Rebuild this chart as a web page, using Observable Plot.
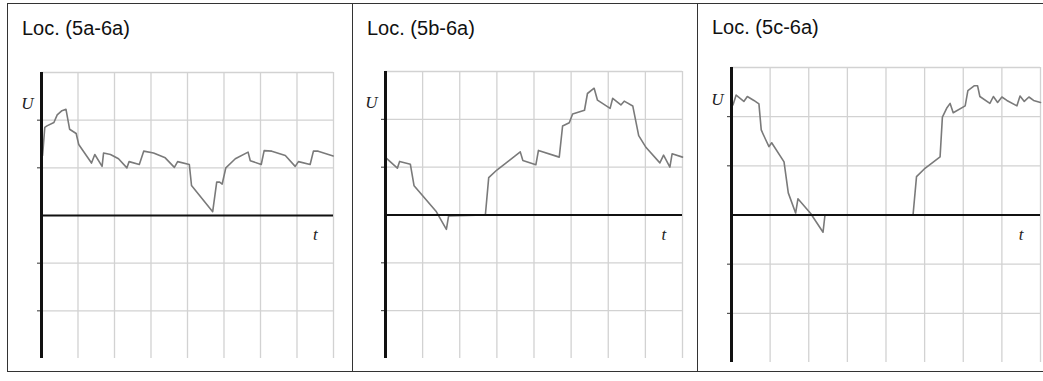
<!DOCTYPE html>
<html>
<head>
<meta charset="utf-8">
<script src="https://cdn.jsdelivr.net/npm/d3@7"></script>
<script src="https://cdn.jsdelivr.net/npm/@observablehq/plot@0.6"></script>
<style>
  html, body { margin: 0; padding: 0; background: #fff; }
  #wrap { position: relative; width: 1043px; height: 381px; overflow: hidden; background: #fff; }
  .ln { position: absolute; background: #333; }
  .title { position: absolute; font-family: Arial, "Liberation Sans", sans-serif; font-size: 20px; line-height: 20px; color: #111; white-space: nowrap; }
  .panel { position: absolute; }
</style>
</head>
<body>
<div id="wrap"></div>
<script>
// ---- data ----
const titles = ["Loc. (5a-6a)", "Loc. (5b-6a)", "Loc. (5c-6a)"];
const xGrid = [1, 2, 3, 4, 5, 6, 7, 8];
const yGrid = [-2, -1, 1, 2, 3];
const yTicks = [-2, -1, 1, 2];

const t1 = [0.03, 0.09, 0.15, 0.34, 0.43, 0.56, 0.67, 0.77, 0.95, 1.02, 1.37, 1.46, 1.66, 1.70, 1.89, 2.11, 2.34, 2.40, 2.68, 2.80, 3.07, 3.39, 3.64, 3.73, 4.05, 4.11, 4.69, 4.80, 4.88, 4.95, 5.05, 5.31, 5.66, 5.72, 6.02, 6.10, 6.31, 6.68, 6.95, 7.04, 7.36, 7.45, 7.58, 7.99];
const u1 = [1.26, 1.85, 1.88, 1.95, 2.11, 2.20, 2.23, 1.81, 1.72, 1.49, 1.10, 1.28, 1.03, 1.31, 1.28, 1.19, 1.00, 1.13, 1.07, 1.35, 1.31, 1.21, 1.01, 1.13, 1.07, 0.63, 0.08, 0.70, 0.70, 0.66, 1.00, 1.19, 1.33, 1.15, 1.07, 1.36, 1.35, 1.26, 1.03, 1.13, 1.07, 1.35, 1.35, 1.25];

const t2 = [0.02, 0.32, 0.38, 0.67, 0.77, 1.36, 1.64, 1.70, 2.69, 2.78, 3.00, 3.32, 3.63, 3.70, 4.05, 4.12, 4.68, 4.77, 4.95, 5.04, 5.36, 5.44, 5.62, 5.71, 6.05, 6.12, 6.34, 6.43, 6.66, 6.82, 7.02, 7.39, 7.49, 7.66, 7.72, 8.00];
const u2 = [1.19, 0.98, 1.12, 1.06, 0.61, 0.08, -0.30, -0.02, 0.00, 0.78, 0.94, 1.13, 1.32, 1.14, 1.05, 1.35, 1.21, 1.86, 1.93, 2.11, 2.19, 2.54, 2.65, 2.40, 2.23, 2.44, 2.30, 2.38, 2.28, 1.66, 1.41, 1.09, 1.25, 1.00, 1.28, 1.21];

const t3 = [0.04, 0.12, 0.32, 0.41, 0.58, 0.71, 0.77, 0.88, 0.97, 1.04, 1.36, 1.47, 1.66, 1.72, 2.05, 2.37, 2.42, 4.70, 4.79, 5.01, 5.40, 5.46, 5.57, 5.66, 5.74, 6.05, 6.12, 6.29, 6.37, 6.43, 6.69, 6.78, 6.89, 7.00, 7.13, 7.39, 7.47, 7.58, 7.70, 7.82, 8.00];
const u3 = [2.24, 2.44, 2.31, 2.41, 2.33, 2.26, 1.73, 1.54, 1.39, 1.47, 1.08, 0.45, 0.04, 0.33, 0.03, -0.35, 0.00, 0.00, 0.78, 0.95, 1.18, 1.99, 2.17, 2.27, 2.08, 2.22, 2.53, 2.63, 2.63, 2.41, 2.27, 2.41, 2.29, 2.40, 2.33, 2.22, 2.42, 2.31, 2.40, 2.33, 2.29];

const series = [[t1, u1], [t2, u2], [t3, u3]];

// ---- layout ----
const wrap = document.getElementById("wrap");
function hline(x, y, w, h) {
  const d = document.createElement("div");
  d.className = "ln";
  Object.assign(d.style, {left: x + "px", top: y + "px", width: w + "px", height: h + "px"});
  wrap.appendChild(d);
}
// outer frame and separators
hline(7, 3, 1043, 1);
hline(7, 371, 1043, 1);
hline(7, 3, 1, 369);
hline(352, 3, 1, 369);
hline(697, 3, 1, 369);

const frames = [
  {left: 41, right: 333, top: 72, bottom: 358, tx: 22, ty: 18},
  {left: 385, right: 682, top: 71, bottom: 358, tx: 367, ty: 18},
  {left: 731, right: 1040, top: 67, bottom: 362, tx: 712, ty: 17}
];

frames.forEach((f, i) => {
  const title = document.createElement("div");
  title.className = "title";
  title.textContent = titles[i];
  title.style.left = f.tx + "px";
  title.style.top = f.ty + "px";
  wrap.appendChild(title);

  const mL = 30, mR = 3, mT = 10, mB = 6;
  const [t, u] = series[i];
  const chart = Plot.plot({
    width: (f.right - f.left) + mL + mR,
    height: (f.bottom - f.top) + mT + mB,
    marginLeft: mL, marginRight: mR, marginTop: mT, marginBottom: mB,
    x: {domain: [0, 8], axis: null},
    y: {domain: [-3, 3]},
    style: {background: "transparent", overflow: "visible"},
    marks: [
      Plot.ruleX(xGrid, {stroke: "#d2d2d2", strokeWidth: 1.3}),
      Plot.ruleY(yGrid, {stroke: "#d2d2d2", strokeWidth: 1.3}),
      Plot.axisY(yTicks, {tickSize: 4, tickFormat: () => "", label: null, stroke: "#333"}),
      Plot.line(t, {x: t, y: u, stroke: "#7a7a7a", strokeWidth: 1.6}),
      Plot.ruleY([0], {stroke: "#111", strokeWidth: 2}),
      Plot.ruleX([0], {stroke: "#111", strokeWidth: 3}),
      Plot.text(["U"], {x: 0, y: 2.35, dx: -14, text: d => d, fontFamily: "Liberation Serif, Times New Roman, serif", fontStyle: "italic", fontSize: 17, fill: "#222"}),
      Plot.text(["t"], {x: 7.5, y: -0.4, text: d => d, fontFamily: "Liberation Serif, Times New Roman, serif", fontStyle: "italic", fontSize: 17, fill: "#222"})
    ]
  });
  const holder = document.createElement("div");
  holder.className = "panel";
  holder.style.left = (f.left - mL) + "px";
  holder.style.top = (f.top - mT) + "px";
  holder.appendChild(chart);
  wrap.appendChild(holder);
});
</script>
</body>
</html>
